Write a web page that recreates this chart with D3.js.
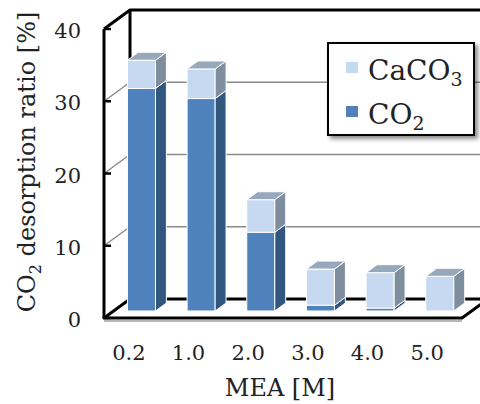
<!DOCTYPE html>
<html>
<head>
<meta charset="utf-8">
<script src="https://cdn.jsdelivr.net/npm/d3@7"></script>
<style>
  body { margin: 0; background: #fff; }
  text { font-family: "DejaVu Serif", serif; fill: #222; }
</style>
</head>
<body>
<div id="chart"></div>
<script>
// data
var categories = ["0.2", "1.0", "2.0", "3.0", "4.0", "5.0"];
var co2Values = [30.8, 29.4, 10.9, 0.8, 0.4, 0];
var caco3Values = [3.9, 4.1, 4.5, 5.0, 4.9, 4.8];
var yTicks = [0, 10, 20, 30, 40];
var seriesNames = ["CO2", "CaCO3"];

var svgWidth = 480;
var svgHeight = 404;

// 3D box: front plane range, depth vector
var DX = 26, DY = -19;
var barFront = 0.37, barBack = 0.79;

var svg = d3.select("#chart")
  .append("svg")
  .attr("width", svgWidth)
  .attr("height", svgHeight);

var defs = svg.append("defs");
defs.append("filter")
  .attr("id", "shadow")
  .attr("x", "-10%").attr("y", "-10%")
  .attr("width", "130%").attr("height", "130%")
  .append("feDropShadow")
  .attr("dx", 3).attr("dy", 3)
  .attr("stdDeviation", 2)
  .attr("flood-color", "#000")
  .attr("flood-opacity", 0.45);

var rows = categories.map(function(c, i) {
  return { cat: c, CO2: co2Values[i], CaCO3: caco3Values[i] };
});

var xScale = d3.scaleBand()
  .domain(categories)
  .range([104, 462]);

var yScale = d3.scaleLinear()
  .domain([0, 40])
  .range([318, 29]);

var x0 = xScale.range()[0], x1 = xScale.range()[1];

// walls: grid lines first
var grid = svg.append("g");
yTicks.slice(1, -1).forEach(function(v) {
  var yf = yScale(v);
  grid.append("line")
    .attr("x1", x0).attr("y1", yf)
    .attr("x2", x0 + DX).attr("y2", yf + DY)
    .attr("stroke", "#8a8a8a").attr("stroke-width", 1.5);
  grid.append("line")
    .attr("x1", x0 + DX).attr("y1", yf + DY)
    .attr("x2", x1 + DX).attr("y2", yf + DY)
    .attr("stroke", "#8a8a8a").attr("stroke-width", 1.5);
});

var frame = svg.append("g")
  .attr("fill", "none")
  .attr("stroke", "#000")
  .attr("stroke-width", 3)
  .attr("stroke-linejoin", "round");

var yTop = yScale(40), yBot = yScale(0);
// back wall
frame.append("path")
  .attr("d", `M${x0},${yTop} L${x0 + DX},${yTop + DY} L${x1 + DX + 10},${yTop + DY}`);
frame.append("line")
  .attr("x1", x0 + DX).attr("y1", yTop + DY)
  .attr("x2", x0 + DX).attr("y2", yBot + DY);
frame.append("line")
  .attr("x1", x0 + DX).attr("y1", yBot + DY)
  .attr("x2", x1 + DX).attr("y2", yBot + DY);
// floor shadow + floor
svg.append("line")
  .attr("x1", x0).attr("y1", yBot + 3)
  .attr("x2", x1).attr("y2", yBot + 3)
  .attr("stroke", "#a0a0a0").attr("stroke-width", 1.5);
frame.append("path")
  .attr("d", `M${x0 + DX},${yBot + DY} L${x0},${yBot} L${x1},${yBot} L${x1 + DX},${yBot + DY}`);
frame.append("line")
  .attr("x1", x0).attr("y1", yTop)
  .attr("x2", x0).attr("y2", yBot);
// front edge ticks
yTicks.forEach(function(v) {
  frame.append("line")
    .attr("x1", x0).attr("y1", yScale(v))
    .attr("x2", x0 + 7).attr("y2", yScale(v))
    .attr("stroke-width", 2.5);
});

// stacked bars
var stack = d3.stack().keys(seriesNames)(rows);
var colors = {
  CO2: { front: "#4f81bd", side: "#32577f", top: "#3f6a9c" },
  CaCO3: { front: "#c6d9f1", side: "#7f8e9e", top: "#97a8bd" }
};

var barW = xScale.bandwidth() * 0.47;
var offF = barFront, ddx = (barBack - barFront) * DX, ddy = (barBack - barFront) * DY;

var bars = svg.append("g");
stack.forEach(function(layer, li) {
  var col = colors[layer.key];
  layer.forEach(function(d, i) {
    if (d[1] - d[0] <= 0) return;
    var cx = xScale(rows[i].cat) + xScale.bandwidth() / 2 + offF * DX - 2;
    var xl = cx - barW / 2, xr = cx + barW / 2;
    var yt = yScale(d[1]) + offF * DY, yb = yScale(d[0]) + offF * DY;
    var g = bars.append("g")
      .attr("stroke", "#fff").attr("stroke-width", 1);
    g.append("rect")
      .attr("x", xl).attr("y", yt)
      .attr("width", barW).attr("height", yb - yt)
      .attr("fill", col.front);
    g.append("polygon")
      .attr("points", [[xr, yt], [xr + ddx, yt + ddy], [xr + ddx, yb + ddy], [xr, yb]].join(" "))
      .attr("fill", col.side);
    var isTop = li === stack.length - 1 || stack[li + 1][i][1] - stack[li + 1][i][0] <= 0;
    if (isTop) {
      g.append("polygon")
        .attr("points", [[xl, yt], [xr, yt], [xr + ddx, yt + ddy], [xl + ddx, yt + ddy]].join(" "))
        .attr("fill", col.top);
    }
  });
});

// y tick labels
svg.append("g").selectAll("text")
  .data(yTicks)
  .enter()
  .append("text")
  .attr("x", 81)
  .attr("y", d => yScale(d) + 9)
  .attr("text-anchor", "end")
  .style("font-size", "21px")
  .text(d => d);

// x tick labels
svg.append("g").selectAll("text")
  .data(categories)
  .enter()
  .append("text")
  .attr("x", d => xScale(d) + xScale.bandwidth() / 2 - 5)
  .attr("y", 360)
  .attr("text-anchor", "middle")
  .style("font-size", "21px")
  .text(d => d);

// axis titles
svg.append("text")
  .attr("x", 280)
  .attr("y", 396)
  .attr("text-anchor", "middle")
  .style("font-size", "24px")
  .text("MEA [M]");

var yTitle = svg.append("text")
  .attr("transform", "translate(35, 162) rotate(-90)")
  .attr("text-anchor", "middle")
  .style("font-size", "24px");
yTitle.append("tspan").text("CO");
yTitle.append("tspan").attr("dy", 6).style("font-size", "16px").text("2");
yTitle.append("tspan").attr("dy", -6).text(" desorption ratio [%]");

// legend
var legend = svg.append("g");
legend.append("rect")
  .attr("x", 328).attr("y", 43)
  .attr("width", 146).attr("height", 92)
  .attr("fill", "#fff")
  .attr("stroke", "#000")
  .attr("stroke-width", 2)
  .attr("filter", "url(#shadow)");

var legendItems = [
  { key: "CaCO3", base: "CaCO", sub: "3" },
  { key: "CO2", base: "CO", sub: "2" }
];
legendItems.forEach(function(item, i) {
  var yy = 80 + i * 44;
  legend.append("rect")
    .attr("x", 346).attr("y", yy - 18)
    .attr("width", 12).attr("height", 11)
    .attr("fill", colors[item.key].front);
  var t = legend.append("text")
    .attr("x", 368).attr("y", yy)
    .style("font-size", "28px");
  t.append("tspan").text(item.base);
  t.append("tspan").attr("dy", 6).style("font-size", "19px").text(item.sub);
});
</script>
</body>
</html>
